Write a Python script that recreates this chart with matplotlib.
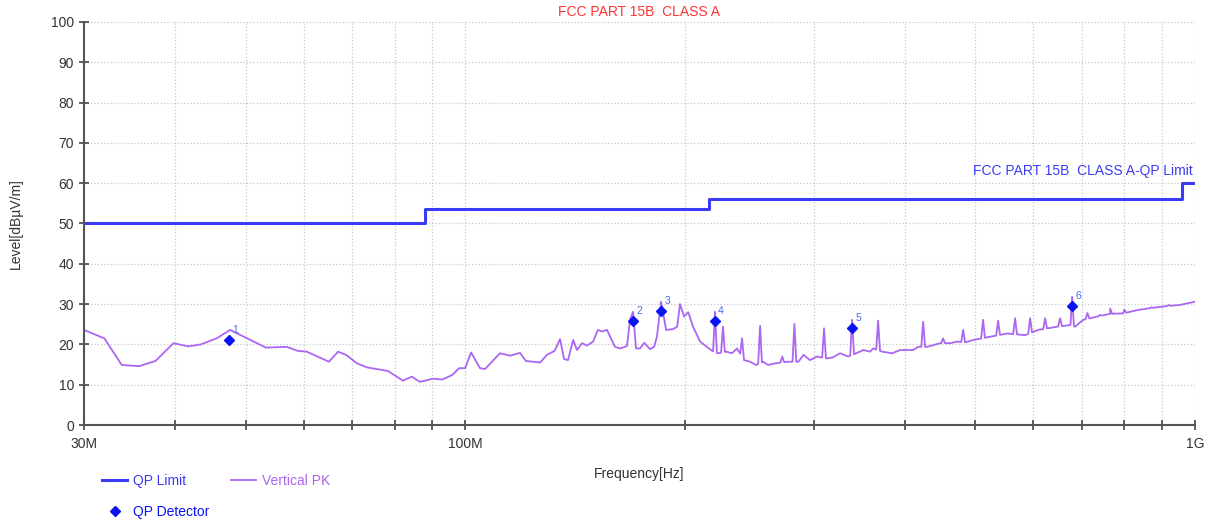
import numpy as np
import matplotlib.pyplot as plt
from matplotlib.ticker import FixedLocator, NullFormatter, FixedFormatter

plt.rcParams['font.family'] = ['Liberation Sans', 'DejaVu Sans']

# QP limit, steps (MHz, dBuV/m)
limit_freq = [30, 88, 88, 216, 216, 960, 960, 1000]
limit_level = [50, 50, 53.5, 53.5, 56, 56, 60, 60]

# peak trace, low part read point by point (MHz, dBuV/m)
pk_low_freq = [30.0, 32.0, 33.8, 35.7, 37.6, 39.8, 41.7, 43.4, 45.6, 47.6, 50.2, 53.3,
               56.9, 58.9, 60.6, 65.0, 66.9, 68.6, 71.0, 73.3, 78.3, 82.1, 84.4, 86.6,
               90.3, 93.0, 95.9, 98.0, 99.9, 101.8, 104.7, 106.4, 111.5, 115.1, 118.8,
               121.0, 126.6, 129.3, 132.5, 134.8, 136.5, 138.2, 140.5, 142.2, 144.5,
               146.8, 149.6, 151.9, 153.9, 156.3, 160.3, 162.9, 166.5, 168.1, 169.7,
               171.3, 173.5, 175.8, 179.1, 181.4, 183.0, 185.4, 188.4, 192.6, 195.1,
               196.8, 199.4, 202.0, 205.1]
pk_low_level = [23.6, 21.5, 14.9, 14.6, 15.9, 20.3, 19.5, 20.0, 21.5, 23.6, 21.5, 19.2,
                19.4, 18.4, 18.2, 15.7, 18.2, 17.4, 15.3, 14.3, 13.4, 11.0, 12.0, 10.7,
                11.5, 11.3, 12.4, 14.1, 14.1, 18.0, 14.1, 13.9, 17.8, 17.2, 17.9,
                15.9, 15.5, 17.4, 18.4, 21.3, 16.4, 16.1, 21.1, 18.6, 20.3,
                19.7, 20.7, 23.6, 23.2, 23.6, 19.4, 19.0, 19.6, 26.1, 28.1,
                19.0, 19.0, 20.4, 18.8, 19.4, 21.9, 30.6, 23.6, 23.8, 24.4,
                30.0, 26.9, 28.0, 24.4]

# peak trace, high part: floor of the trace
pk_base_freq = [209.7, 214.3, 217.8, 221.9, 227.6, 231.9, 235.6, 240.9, 245.5, 250.2,
                255.8, 259.9, 265.8, 276.2, 286.0, 290.7, 296.7, 303.3, 313.0, 319.0,
                326.2, 334.5, 343.1, 351.1, 358.6, 362.0, 372.5, 384.4, 394.2, 410.7,
                417.3, 429.3, 447.2, 461.6, 472.0, 484.1, 496.8, 523.7, 552.5, 585.0,
                609.4, 647.0, 675.0, 684.9, 702.6, 734.1, 765.0, 797.1, 833.1, 868.0,
                904.3, 954.0, 1000.0]
pk_base_level = [20.7, 19.4, 18.4, 17.8, 18.2, 17.8, 19.0, 16.1, 15.7, 14.9,
                 15.7, 14.9, 15.3, 15.7, 15.7, 17.4, 16.1, 17.0, 16.5, 16.8,
                 17.8, 17.0, 17.8, 18.6, 18.2, 19.0, 18.2, 17.8, 18.6, 18.6,
                 19.4, 19.4, 20.3, 20.3, 20.7, 20.5, 21.1, 21.9, 22.7, 22.3,
                 23.6, 24.4, 24.8, 24.4, 26.1, 26.9, 27.6, 27.7, 28.5, 29.0,
                 29.4, 29.8, 30.6]

# narrow spikes on top of the floor
spike_freq = [219.8, 225.4, 239.4, 253.4, 271.8, 282.4, 310.1, 338.8, 367.8, 424.0,
              451.5, 481.0, 512.2, 537.1, 566.7, 594.2, 623.0, 653.2, 678.4, 712.0,
              741.0, 765.0, 800.0, 870.0, 920.0]
spike_level = [28.1, 24.4, 21.5, 24.6, 17.0, 25.1, 24.0, 26.1, 25.9, 25.6,
               21.5, 23.6, 26.1, 25.9, 26.5, 26.5, 26.5, 26.5, 31.8, 27.8,
               27.3, 28.9, 28.6, 29.2, 29.8]

# QP detector results
qp_freq = [47.4, 169.7, 185.4, 219.8, 338.8, 678.4]
qp_level = [21.1, 25.8, 28.3, 25.8, 24.1, 29.5]
qp_names = ['1', '2', '3', '4', '5', '6']

# build the high part from floor + spikes
hf = list(pk_base_freq)
hl = list(pk_base_level)
for f, p in zip(spike_freq, spike_level):
    for ff in (f / 1.006, f * 1.006):
        hf.append(ff)
        hl.append(np.interp(ff, pk_base_freq, pk_base_level))
    hf.append(f)
    hl.append(p)
order = np.argsort(hf)
pk_freq = np.concatenate([pk_low_freq, np.array(hf)[order]])
pk_level = np.concatenate([pk_low_level, np.array(hl)[order]])

fig = plt.figure(figsize=(12.13, 5.22), dpi=100)
ax = fig.add_axes([0.0692, 0.1858, 0.916, 0.7721])

limit_col = '#3b3bf5'
pk_col = '#ab66f2'
qp_col = '#0a14f0'

l1, = ax.plot(np.array(limit_freq) * 1e6, limit_level, color=limit_col, lw=2.2, label='QP Limit')
l2, = ax.plot(pk_freq * 1e6, pk_level, color=pk_col, lw=1.3, label='Vertical PK')
l3, = ax.plot(np.array(qp_freq) * 1e6, qp_level, 'D', color=qp_col, ms=5, ls='none', label='QP Detector')
for f, v, n in zip(qp_freq, qp_level, qp_names):
    ax.text(f * 1e6 * 1.01, v + 1.8, n, color='#4a6cf7', fontsize=7.5)

ax.set_xscale('log')
ax.set_xlim(30e6, 1e9)
ax.set_ylim(0, 100)

major = [30e6, 100e6, 1e9]
minor = [f * 1e6 for f in [40, 50, 60, 70, 80, 90, 200, 300, 400, 500, 600, 700, 800, 900]]
ax.xaxis.set_major_locator(FixedLocator(major))
ax.xaxis.set_major_formatter(FixedFormatter(['30M', '100M', '1G']))
ax.xaxis.set_minor_locator(FixedLocator(minor))
ax.xaxis.set_minor_formatter(NullFormatter())
ax.set_yticks(range(0, 101, 10))

ax.tick_params(axis='both', which='both', direction='inout', length=7, width=1.2,
               color='#444444', labelsize=10, labelcolor='#333333')
ax.tick_params(axis='x', pad=5)
ax.grid(True, which='both', ls=':', color='#c8c8c8', lw=0.9)
for s in ['top', 'right']:
    ax.spines[s].set_visible(False)
for s in ['left', 'bottom']:
    ax.spines[s].set_color('#555555')
    ax.spines[s].set_linewidth(1.5)

ax.set_xlabel('Frequency[Hz]', fontsize=10, color='#333333', labelpad=12)
ax.set_ylabel('Level[dBµV/m]', fontsize=10, color='#333333', labelpad=20)

ax.set_title('FCC PART 15B  CLASS A', color='#ff3333', fontsize=10, pad=4)
ax.text(0.998, 0.612, 'FCC PART 15B  CLASS A-QP Limit', transform=ax.transAxes,
        ha='right', va='bottom', color=limit_col, fontsize=10)

leg = fig.legend(handles=[l1, l3, l2], ncol=2, loc='upper left',
                 bbox_to_anchor=(0.0841, 0.092), frameon=False, fontsize=10,
                 handlelength=1.8, handletextpad=0.4, labelspacing=1.2,
                 columnspacing=1.6, borderpad=0, borderaxespad=0)
for t, c in zip(leg.get_texts(), [limit_col, qp_col, pk_col]):
    t.set_color(c)

fig.savefig('out.png', dpi=100)
